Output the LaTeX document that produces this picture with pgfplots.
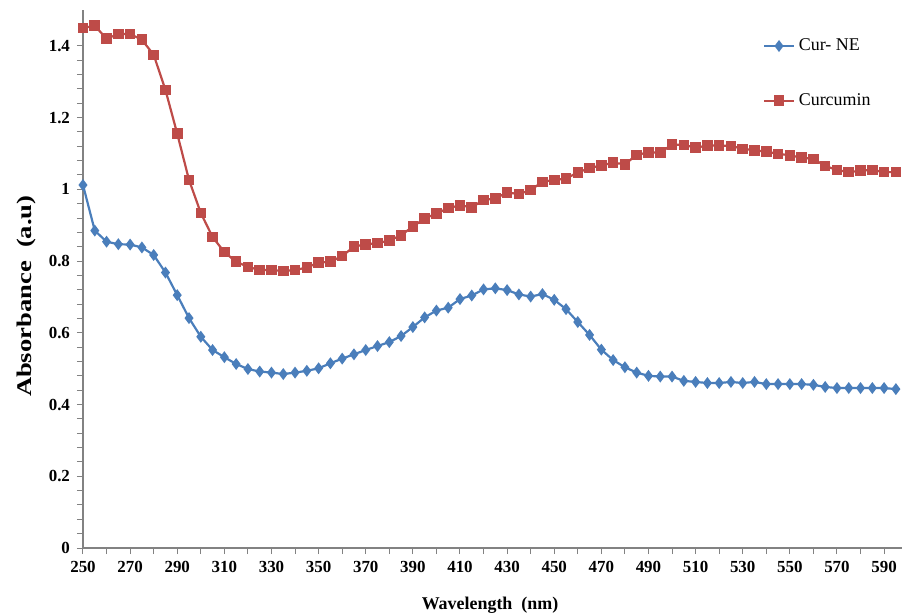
\documentclass[border=0pt]{standalone}
\usepackage{pgfplots}
\pgfplotsset{compat=1.18}
\usepackage{fontspec}
\setmainfont{Liberation Serif}
\definecolor{cblue}{RGB}{74,126,187}
\definecolor{cred}{RGB}{190,75,72}
\definecolor{axgray}{RGB}{130,130,130}
\begin{document}
\begin{tikzpicture}
\useasboundingbox (-41.5bp,-34bp) rectangle (409.5bp,274bp);
\begin{axis}[
  scale only axis,
  width=409.5bp, height=269bp,
  xmin=250, xmax=597.6, ymin=0, ymax=1.5,
  axis lines=left,
  axis line style={-, axgray, line width=0.6pt},
  tick style={axgray, line width=0.5pt},
  tick align=outside,
  major tick length=3bp, minor tick length=3bp,
  xtick={250,270,...,590},
  minor x tick num=1,
  ytick={0,0.2,...,1.4},
  minor y tick num=4,
  /pgf/number format/assume math mode=true,
  ticklabel style={font=\fontsize{8.5}{10}\selectfont\bfseries},
  xlabel={Wavelength\ \ (nm)},
  ylabel={\scalebox{1.27}[1]{Absorbance\ \ (a.u)}},
  xlabel style={font=\fontsize{9}{11}\selectfont\bfseries, at={(axis description cs:0.497,-0.106)}, anchor=center},
  ylabel style={font=\fontsize{10.5}{12}\selectfont\bfseries, at={(axis description cs:-0.0696,0.468)}, anchor=center},
  clip=true,
  legend style={draw=none, fill=none, at={(rel axis cs:0.830,0.955)}, anchor=north west,
    row sep=16pt, font=\fontsize{9}{10}\selectfont, inner sep=0pt},
  legend cell align=left,
  legend image code/.code={\draw[#1, mark repeat=2, mark phase=2] plot coordinates {(0cm,0cm) (0.26cm,0cm) (0.52cm,0cm)};},
]
\addplot[cblue, line width=1.1pt, mark=diamond*, mark size=2.1bp, mark options={solid, fill=cblue}] coordinates {
(250,1.012)(255,0.885)(260,0.854)(265,0.847)(270,0.846)(275,0.838)(280,0.817)(285,0.768)(290,0.705)
(295,0.641)(300,0.589)(305,0.552)(310,0.532)(315,0.513)(320,0.499)(325,0.492)(330,0.489)(335,0.485)
(340,0.489)(345,0.494)(350,0.501)(355,0.515)(360,0.528)(365,0.540)(370,0.552)(375,0.563)(380,0.574)
(385,0.591)(390,0.616)(395,0.643)(400,0.662)(405,0.670)(410,0.694)(415,0.704)(420,0.721)(425,0.724)
(430,0.719)(435,0.707)(440,0.701)(445,0.708)(450,0.692)(455,0.666)(460,0.630)(465,0.594)(470,0.553)
(475,0.524)(480,0.504)(485,0.489)(490,0.480)(495,0.478)(500,0.478)(505,0.466)(510,0.463)(515,0.460)
(520,0.460)(525,0.463)(530,0.460)(535,0.463)(540,0.457)(545,0.457)(550,0.457)(555,0.457)(560,0.455)
(565,0.449)(570,0.446)(575,0.446)(580,0.446)(585,0.446)(590,0.446)(595,0.443)
};
\addlegendentry{Cur- NE}
\addplot[cred, line width=1.1pt, mark=square*, mark size=2.1bp, mark options={solid, fill=cred}] coordinates {
(250,1.450)(255,1.456)(260,1.420)(265,1.433)(270,1.433)(275,1.417)(280,1.375)(285,1.277)(290,1.155)
(295,1.026)(300,0.934)(305,0.867)(310,0.825)(315,0.798)(320,0.784)(325,0.775)(330,0.775)(335,0.772)
(340,0.775)(345,0.782)(350,0.796)(355,0.798)(360,0.814)(365,0.840)(370,0.847)(375,0.850)(380,0.857)
(385,0.872)(390,0.896)(395,0.919)(400,0.932)(405,0.948)(410,0.955)(415,0.950)(420,0.970)(425,0.975)
(430,0.991)(435,0.987)(440,0.998)(445,1.021)(450,1.026)(455,1.030)(460,1.047)(465,1.059)(470,1.067)
(475,1.074)(480,1.070)(485,1.096)(490,1.103)(495,1.102)(500,1.125)(505,1.124)(510,1.116)(515,1.122)
(520,1.122)(525,1.121)(530,1.113)(535,1.109)(540,1.105)(545,1.099)(550,1.095)(555,1.088)(560,1.085)
(565,1.065)(570,1.054)(575,1.048)(580,1.052)(585,1.054)(590,1.048)(595,1.048)
};
\addlegendentry{Curcumin}
\end{axis}
\end{tikzpicture}
\end{document}
